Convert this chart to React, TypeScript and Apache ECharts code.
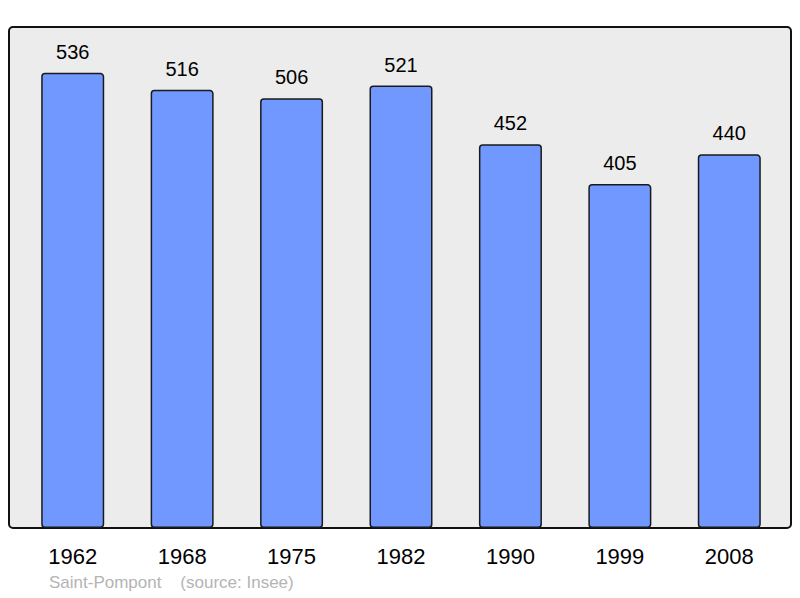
import React, { useEffect, useRef } from "react";
import * as echarts from "echarts";

const years = ["1962", "1968", "1975", "1982", "1990", "1999", "2008"];
const population = [536, 516, 506, 521, 452, 405, 440];
const footer = "Saint-Pompont    (source: Insee)";

export default function App() {
  const ref = useRef<HTMLDivElement>(null);
  useEffect(() => {
    const chart = echarts.init(ref.current!, undefined, { renderer: "svg" });
    chart.setOption({
      animation: false,
      textStyle: { fontFamily: "Liberation Sans, Arial, sans-serif" },
      graphic: [
        {
          type: "rect",
          shape: { x: 9, y: 27, width: 782, height: 501, r: 4 },
          style: { fill: "#ececec", stroke: "#111", lineWidth: 2 },
          z: -10,
        },
        {
          type: "text",
          left: 49,
          top: 574,
          style: {
            text: footer,
            fill: "#b4b4b4",
            font: "17px Liberation Sans, Arial, sans-serif",
          },
        },
      ],
      grid: { left: 18, width: 766, top: 27, height: 501 },
      xAxis: {
        type: "category",
        data: years,
        axisLine: { show: false },
        axisTick: { show: false },
        axisLabel: {
          color: "#000",
          fontSize: 22,
          margin: 17,
          fontFamily: "Liberation Sans, Arial, sans-serif",
        },
      },
      yAxis: {
        type: "value",
        min: 0,
        max: 590,
        show: false,
        splitLine: { show: false },
      },
      series: [
        {
          type: "bar",
          data: population,
          barWidth: 63,
          itemStyle: {
            color: "#7098ff",
            borderColor: "#1a1a1a",
            borderWidth: 1.5,
            borderRadius: 3,
          },
          label: {
            show: true,
            position: "top",
            distance: 11,
            color: "#000",
            fontSize: 20,
            fontFamily: "Liberation Sans, Arial, sans-serif",
          },
        },
      ],
    });
    return () => chart.dispose();
  }, []);
  return <div ref={ref} style={{ width: 800, height: 598, position: "absolute", left: 0, top: 0 }} />;
}
